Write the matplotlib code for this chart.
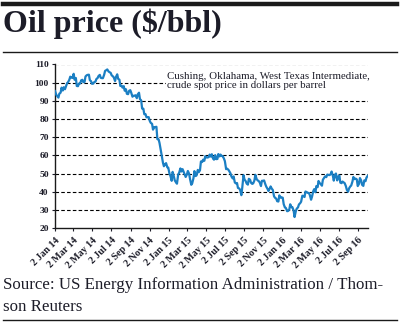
import numpy as np
import pandas as pd
import matplotlib
matplotlib.use('Agg')
import matplotlib.pyplot as plt
from matplotlib.lines import Line2D

# -- WTI spot price, Cushing OK ($/bbl), sampled Thursday / Monday from 2 Jan 2014
wti_price = [
    # 2014
    95.4, 93.4, 92.7, 91.8, 94.0, 94.5, 97.3, 95.7, 97.5, 96.4,
    97.8, 99.8, 100.3, 101.6, 103.3, 102.8, 102.6, 104.9, 101.6, 102.6,
    98.2, 98.1, 99.5, 99.6, 101.3, 101.6, 100.3, 100.4, 103.4, 104.1,
    104.3, 104.4, 101.4, 100.8, 99.4, 99.5, 100.3, 100.6, 102.0, 102.6,
    103.7, 104.3, 102.7, 102.5, 102.5, 104.4, 106.5, 106.9, 107.3, 106.2,
    105.8, 105.4, 104.1, 103.5, 102.9, 100.9, 103.2, 104.6, 102.1, 101.7,
    98.2, 98.3, 97.3, 98.1, 95.6, 96.4, 93.9, 93.7, 95.5, 95.9,
    94.5, 92.3, 92.8, 92.9, 93.1, 91.5, 93.6, 94.5, 91.0, 90.3,
    85.8, 85.7, 82.7, 82.7, 81.0, 81.0, 81.1, 78.8, 77.9, 77.4,
    74.2, 75.6, 75.6, 75.8, 69.0, 68.9, 66.8, 63.1, 60.0, 56.0,
    54.1, 55.3, 55.8, 53.5,
    # 2015
    53.3, 50.0, 48.8, 46.1, 51.0, 48.5, 46.3, 45.2, 44.5, 49.6,
    50.5, 52.9, 51.2, 52.5, 51.2, 49.5, 48.2, 49.6, 51.5, 50.0,
    47.1, 43.9, 44.7, 47.5, 51.4, 48.7, 49.1, 52.1, 50.8, 51.9,
    56.7, 56.4, 57.7, 57.1, 59.6, 58.9, 58.9, 59.1, 60.5, 59.4,
    60.7, 58.3, 57.7, 60.2, 58.0, 58.1, 60.8, 59.5, 60.5, 59.7,
    59.7, 58.3, 56.9, 52.5, 52.8, 52.2, 51.4, 50.2, 48.5, 47.4,
    48.5, 45.2, 44.7, 44.9, 42.2, 41.9, 41.1, 38.2, 42.6, 49.2,
    46.8, 45.9, 44.6, 44.0, 47.2, 46.7, 45.0, 44.4, 44.7, 46.3,
    49.4, 47.1, 46.4, 45.9, 45.2, 43.2, 46.1, 46.1, 46.3, 44.2,
    42.9, 41.7, 40.5, 41.8, 43.0, 41.7, 41.1, 37.6, 36.8, 36.3,
    34.9, 34.7, 38.1, 36.8, 37.0,
    # 2016
    36.8, 33.3, 31.4, 31.2, 29.4, 29.5, 30.3, 33.2, 31.6, 31.6,
    29.7, 26.2, 29.4, 30.8, 31.5, 33.1, 33.8, 34.6, 37.9, 37.8,
    37.2, 40.2, 39.9, 39.5, 39.4, 38.3, 35.7, 37.3, 40.4, 41.5,
    39.8, 43.2, 42.6, 46.0, 44.8, 44.3, 43.4, 46.7, 47.7, 48.5,
    48.1, 49.5, 49.3, 49.2, 49.7, 51.2, 48.9, 46.2, 49.4, 50.1,
    46.3, 48.3, 49.0, 45.1, 44.8, 45.7, 45.2, 44.8, 43.1, 41.1,
    40.1, 41.9, 43.0, 43.5, 45.7, 48.2, 47.0, 47.3, 46.9, 43.2,
    44.4, 47.6, 46.3, 43.9, 43.3, 46.3, 45.9, 47.8, 48.8,
]
thursdays = pd.date_range('2014-01-02', '2016-10-06', freq='7D')
sample_dates = thursdays.append(thursdays + pd.Timedelta(days=4)).sort_values()
sample_dates = sample_dates[:len(wti_price)]

y_ticks = [20, 30, 40, 50, 60, 70, 80, 90, 100, 110]
x_ticks = pd.date_range('2014-01-01', '2016-09-01', freq='2MS') + pd.Timedelta(days=1)
x_labels = [d.strftime('2 %b %y') for d in x_ticks]

title_txt = 'Oil price ($/bbl)'
note_txt = 'Cushing, Oklahama, West Texas Intermediate,\ncrude spot price in dollars per barrel'
source_txt = 'Source: US Energy Information Administration / Thom-\nson Reuters'

txt_col = '#1c1c28'
line_col = '#1b7fc3'

plt.rcParams['font.family'] = ['Liberation Serif', 'DejaVu Serif']

fig = plt.figure(figsize=(4.01, 3.25), dpi=100)
ax = fig.add_axes([55/401, 1-228.3/325, 313/401, (228.3-64.5)/325])

# -- rules around the title and below the source
fig.add_artist(Line2D([3/401, 397/401], [1-3.5/325]*2, color='#1a1a1a', lw=3.2))
fig.add_artist(Line2D([3/401, 397/401], [1-52/325]*2, color='#1a1a1a', lw=1.0))
fig.add_artist(Line2D([3/401, 397/401], [1-319.5/325]*2, color='#1a1a1a', lw=1.0))

fig.text(3/401, 1-24/325, title_txt, fontsize=23, fontweight='bold', color=txt_col,
         va='center', ha='left')
fig.text(3/401, 1-296/325, source_txt, fontsize=12.2, color=txt_col,
         va='center', ha='left', linespacing=1.45)

# -- dashed gridlines
for yv in y_ticks[1:]:
    ax.axhline(yv, color='black', lw=0.8, ls=(0, (3.2, 2.0)), zorder=1)

ax.plot(sample_dates, wti_price, color=line_col, lw=1.6, zorder=3)

ax.text(0.358, 0.955, note_txt, transform=ax.transAxes, fontsize=7.8, color=txt_col,
        va='top', ha='left', linespacing=1.0, zorder=2,
        bbox=dict(facecolor='white', edgecolor='none', pad=1.0))

ax.set_ylim(20, 110)
ax.set_xlim(pd.Timestamp('2014-01-02'), pd.Timestamp('2016-10-04'))
ax.set_yticks(y_ticks)
ax.set_yticklabels([str(v) for v in y_ticks], fontsize=6.8, fontweight='bold', color=txt_col)
ax.set_xticks(x_ticks)
ax.set_xticklabels(x_labels, fontsize=7.2, fontweight='bold', color=txt_col,
                   rotation=45, ha='right', rotation_mode='anchor')
ax.tick_params(axis='both', length=2.5, width=0.8, pad=2, colors=txt_col)
ax.tick_params(axis='x', pad=3)

for side in ['top', 'right']:
    ax.spines[side].set_visible(False)
for side in ['left', 'bottom']:
    ax.spines[side].set_linewidth(1.0)
    ax.spines[side].set_color('#1a1a1a')

fig.savefig('out.png', dpi=100)
